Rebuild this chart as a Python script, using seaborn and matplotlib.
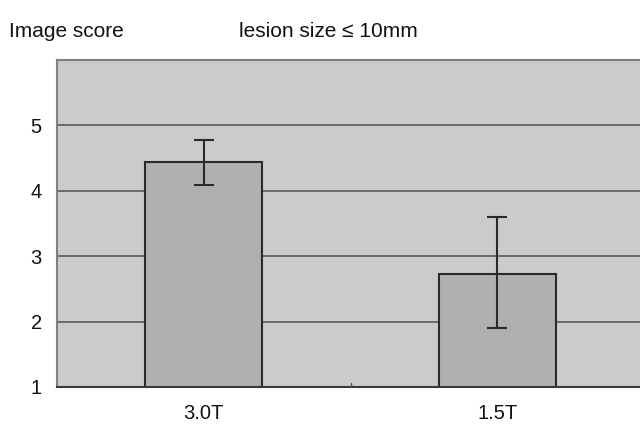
import matplotlib
matplotlib.use("Agg")
import matplotlib.pyplot as plt
import seaborn as sns
import pandas as pd
import numpy as np

categories = ["3.0T", "1.5T"]
means = [4.44, 2.73]
err_upper = [4.78, 3.60]
err_lower = [4.09, 1.90]
y_ticks = [1, 2, 3, 4, 5]

sns.set_theme(style="white")
plt.rcParams['font.family'] = ['Liberation Sans', 'DejaVu Sans']

df = pd.DataFrame({"field": categories, "score": means})

fig = plt.figure(figsize=(6.4, 4.26), dpi=100)
ax = fig.add_axes([57/640, 1-387/426, (644-57)/640, (387-60)/426])
ax.set_facecolor("#cbcbcd")

for y in y_ticks[1:]:
    ax.axhline(y, color="#5a5a5a", lw=1.2, zorder=0.5)

sns.barplot(data=df, x="field", y="score", ax=ax, color="#b0b0b2",
            width=0.40, errorbar=None, edgecolor="#2a2a2a", linewidth=1.5,
            saturation=1, zorder=2)

m = np.array(means)
yerr = np.vstack([m - np.array(err_lower), np.array(err_upper) - m])
ax.errorbar(np.arange(len(categories)), m, yerr=yerr, fmt="none",
            ecolor="#2a2a2a", elinewidth=1.5, capsize=7, capthick=1.5, zorder=3)

ax.set_ylim(1, 6)
ax.set_xlim(-0.5, 1.5)
ax.set_yticks(y_ticks)
ax.set_xlabel("")
ax.set_ylabel("")
ax.tick_params(axis="both", length=0, labelsize=14.5, colors="#111111")
ax.tick_params(axis="y", pad=11)
ax.tick_params(axis="x", pad=12.5)
ax.plot([0.5, 0.5], [1, 1.06], color="#555555", lw=1, zorder=3, clip_on=False)

for s in ["left", "top", "right"]:
    ax.spines[s].set_color("#808080")
    ax.spines[s].set_linewidth(1.5)
ax.spines["bottom"].set_color("#3a3a3a")
ax.spines["bottom"].set_linewidth(1.5)

fig.text(9/640, 1-37/426, "Image score", fontsize=15, va="baseline", ha="left", color="#111111")
fig.text(239/640, 1-37/426, "lesion size \u2264 10mm", fontsize=15, va="baseline", ha="left", color="#111111")

fig.savefig("out.png", dpi=100, facecolor="white")
